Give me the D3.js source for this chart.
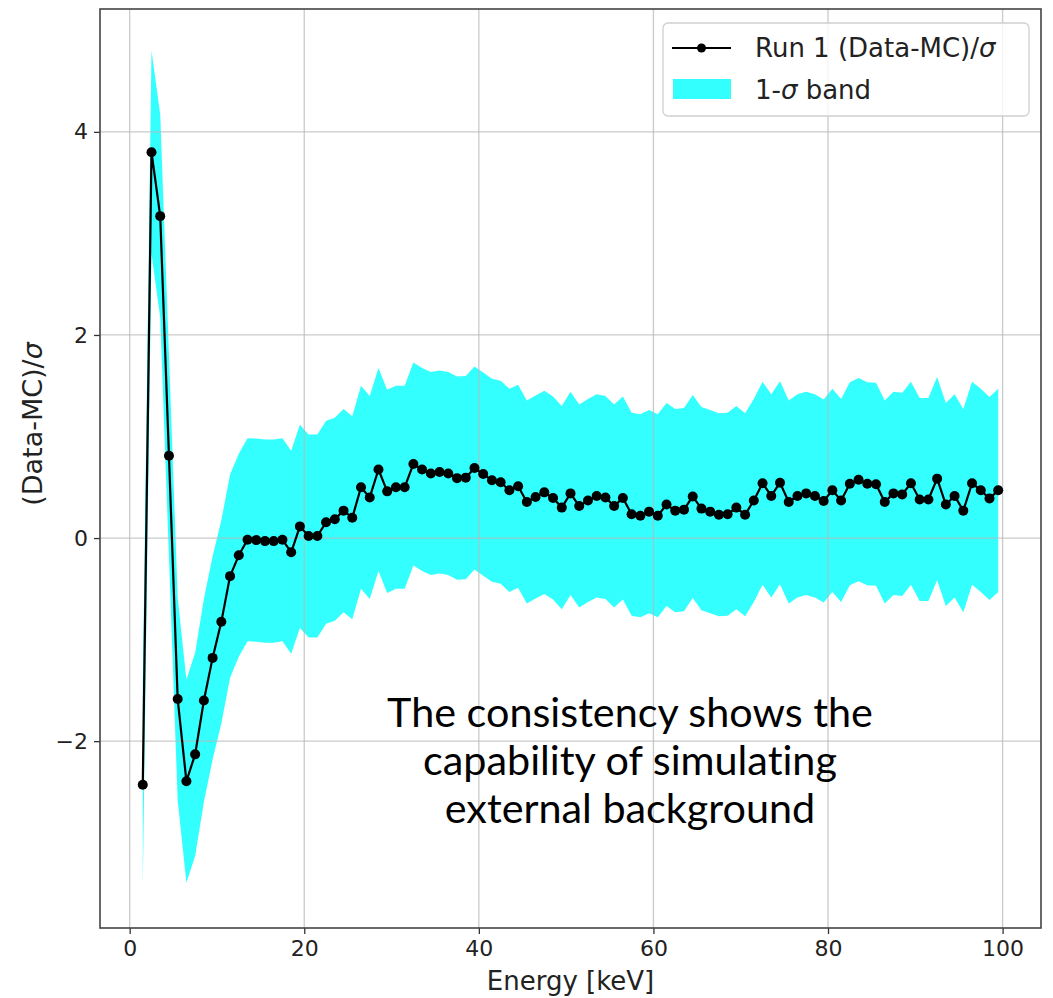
<!DOCTYPE html>
<html>
<head>
<meta charset="utf-8">
<script src="https://cdn.jsdelivr.net/npm/d3@7"></script>
<style>
  html, body { margin: 0; padding: 0; background: #fff; }
  svg { display: block; }
  .note { font-variant-ligatures: none; font-feature-settings: "liga" 0, "clig" 0; }
</style>
</head>
<body>
<svg id="chart" width="1053" height="998"></svg>
<script>
// ---------- DATA ----------
const energy = [1.5, 2.5, 3.5, 4.5, 5.5, 6.5, 7.5, 8.5, 9.5, 10.5,
  11.5, 12.5, 13.5, 14.5, 15.5, 16.5, 17.5, 18.5, 19.5, 20.5,
  21.5, 22.5, 23.5, 24.5, 25.5, 26.5, 27.5, 28.5, 29.5, 30.5,
  31.5, 32.5, 33.5, 34.5, 35.5, 36.5, 37.5, 38.5, 39.5, 40.5,
  41.5, 42.5, 43.5, 44.5, 45.5, 46.5, 47.5, 48.5, 49.5, 50.5,
  51.5, 52.5, 53.5, 54.5, 55.5, 56.5, 57.5, 58.5, 59.5, 60.5,
  61.5, 62.5, 63.5, 64.5, 65.5, 66.5, 67.5, 68.5, 69.5, 70.5,
  71.5, 72.5, 73.5, 74.5, 75.5, 76.5, 77.5, 78.5, 79.5, 80.5,
  81.5, 82.5, 83.5, 84.5, 85.5, 86.5, 87.5, 88.5, 89.5, 90.5,
  91.5, 92.5, 93.5, 94.5, 95.5, 96.5, 97.5, 98.5, 99.5];

const residual = [-2.43, 3.80, 3.17, 0.81, -1.585, -2.395, -2.13, -1.60, -1.18, -0.825,
  -0.375, -0.17, -0.016, -0.02, -0.03, -0.03, -0.016, -0.14, 0.115, 0.02,
  0.02, 0.155, 0.185, 0.27, 0.20, 0.50, 0.40, 0.675, 0.46, 0.50,
  0.50, 0.73, 0.675, 0.635, 0.65, 0.635, 0.59, 0.595, 0.69, 0.63,
  0.57, 0.55, 0.47, 0.51, 0.355, 0.405, 0.45, 0.395, 0.30, 0.44,
  0.315, 0.37, 0.415, 0.40, 0.315, 0.395, 0.235, 0.22, 0.26, 0.22,
  0.33, 0.27, 0.28, 0.41, 0.29, 0.26, 0.23, 0.235, 0.30, 0.23,
  0.37, 0.54, 0.415, 0.545, 0.355, 0.415, 0.44, 0.415, 0.365, 0.47,
  0.37, 0.535, 0.575, 0.535, 0.53, 0.355, 0.44, 0.43, 0.54, 0.38,
  0.38, 0.585, 0.33, 0.415, 0.27, 0.54, 0.47, 0.39, 0.47];

// the band is the 1-sigma band around each point
const sigma = 1;

const xTicks = [0, 20, 40, 60, 80, 100];
const yTicks = [-2, 0, 2, 4];

const xLabel = "Energy [keV]";
const yLabelMain = "(Data-MC)/";
const sigmaChar = "σ";
const legendLine = "Run 1 (Data-MC)/";
const legendBandPre = "1-";
const legendBandPost = " band";
const noteLines = ["The consistency shows the", "capability of simulating", "external background"];

// ---------- LAYOUT ----------
const svg = d3.select("#chart");
const plot = { left: 100, right: 1041, top: 9, bottom: 928 };
const x = d3.scaleLinear().domain([-3.4, 104.4]).range([plot.left, plot.right]);
const y = d3.scaleLinear().domain([-3.84, 5.21]).range([plot.bottom, plot.top]);

const pts = energy.map((e, i) => ({ e, v: residual[i] }));
const FONT = "DejaVu Sans, sans-serif";

// band
const area = d3.area()
  .x(d => x(d.e))
  .y0(d => y(d.v - sigma))
  .y1(d => y(d.v + sigma));
svg.append("path").datum(pts)
  .attr("d", area)
  .attr("fill", "cyan")
  .attr("fill-opacity", 0.8);

// grid
const grid = svg.append("g").attr("stroke", "#b8b8b8").attr("stroke-opacity", 0.75).attr("stroke-width", 1.3);
grid.selectAll("line.gx").data(xTicks).join("line")
  .attr("x1", d => x(d)).attr("x2", d => x(d))
  .attr("y1", plot.top).attr("y2", plot.bottom);
grid.selectAll("line.gy").data(yTicks).join("line")
  .attr("x1", plot.left).attr("x2", plot.right)
  .attr("y1", d => y(d)).attr("y2", d => y(d));

// line + markers
const line = d3.line().x(d => x(d.e)).y(d => y(d.v));
svg.append("path").datum(pts)
  .attr("d", line)
  .attr("fill", "none")
  .attr("stroke", "#000")
  .attr("stroke-width", 2.2)
  .attr("stroke-linejoin", "round");
svg.append("g").selectAll("circle").data(pts).join("circle")
  .attr("cx", d => x(d.e)).attr("cy", d => y(d.v))
  .attr("r", 5).attr("fill", "#000");

// axes
const xAxis = d3.axisBottom(x).tickValues(xTicks).tickSize(6).tickPadding(6).tickFormat(d3.format("d"));
const yAxis = d3.axisLeft(y).tickValues(yTicks).tickSize(6).tickPadding(6)
  .tickFormat(d => d < 0 ? "\u2212" + Math.abs(d) : String(d));

const gx = svg.append("g").attr("transform", `translate(0,${plot.bottom})`).call(xAxis);
const gy = svg.append("g").attr("transform", `translate(${plot.left},0)`).call(yAxis);
[gx, gy].forEach(g => {
  g.select(".domain").remove();
  g.selectAll(".tick line").attr("stroke", "#333").attr("stroke-width", 1.3);
  g.selectAll(".tick text").attr("fill", "#222").attr("font-family", FONT).attr("font-size", 22);
});

// frame
svg.append("rect")
  .attr("x", plot.left).attr("y", plot.top)
  .attr("width", plot.right - plot.left).attr("height", plot.bottom - plot.top)
  .attr("fill", "none").attr("stroke", "#444").attr("stroke-width", 1.6);

// axis labels
svg.append("text")
  .attr("x", (plot.left + plot.right) / 2).attr("y", 990)
  .attr("text-anchor", "middle")
  .attr("font-family", FONT).attr("font-size", 26).attr("fill", "#222")
  .text(xLabel);

const yl = svg.append("text")
  .attr("transform", "translate(42,424) rotate(-90)")
  .attr("text-anchor", "middle")
  .attr("font-family", FONT).attr("font-size", 27).attr("fill", "#222");
yl.append("tspan").text(yLabelMain);
yl.append("tspan").attr("font-style", "italic").text(sigmaChar);

// legend
const lg = svg.append("g");
lg.append("rect")
  .attr("x", 663).attr("y", 23).attr("width", 366).attr("height", 93)
  .attr("rx", 5).attr("fill", "#fff").attr("fill-opacity", 0.8)
  .attr("stroke", "#d0d0d0").attr("stroke-width", 1.3);
lg.append("line").attr("x1", 672).attr("x2", 731).attr("y1", 48).attr("y2", 48)
  .attr("stroke", "#000").attr("stroke-width", 2.2);
lg.append("circle").attr("cx", 701.5).attr("cy", 48).attr("r", 4.5).attr("fill", "#000");
const t1 = lg.append("text").attr("x", 755).attr("y", 57)
  .attr("font-family", FONT).attr("font-size", 26).attr("fill", "#222");
t1.append("tspan").text(legendLine);
t1.append("tspan").attr("font-style", "italic").text(sigmaChar);
lg.append("rect").attr("x", 673).attr("y", 79).attr("width", 58).attr("height", 20)
  .attr("fill", "cyan").attr("fill-opacity", 0.8);
const t2 = lg.append("text").attr("x", 755).attr("y", 99)
  .attr("font-family", FONT).attr("font-size", 26).attr("fill", "#222");
t2.append("tspan").text(legendBandPre);
t2.append("tspan").attr("font-style", "italic").text(sigmaChar);
t2.append("tspan").text(legendBandPost);

// annotation
const note = svg.append("g");
const noteBase = [727, 775, 823];
const nt = note.selectAll("text").data(noteLines).join("text")
  .attr("class", "note")
  .attr("x", 630).attr("y", (d, i) => noteBase[i])
  .attr("text-anchor", "middle")
  .attr("font-family", "Lato, Open Sans, sans-serif")
  .attr("font-size", 40).attr("fill", "#000")
  .text(d => d);
const w0 = nt.nodes()[0].getComputedTextLength();
nt.attr("font-size", 40 * 486 / w0);
</script>
</body>
</html>
